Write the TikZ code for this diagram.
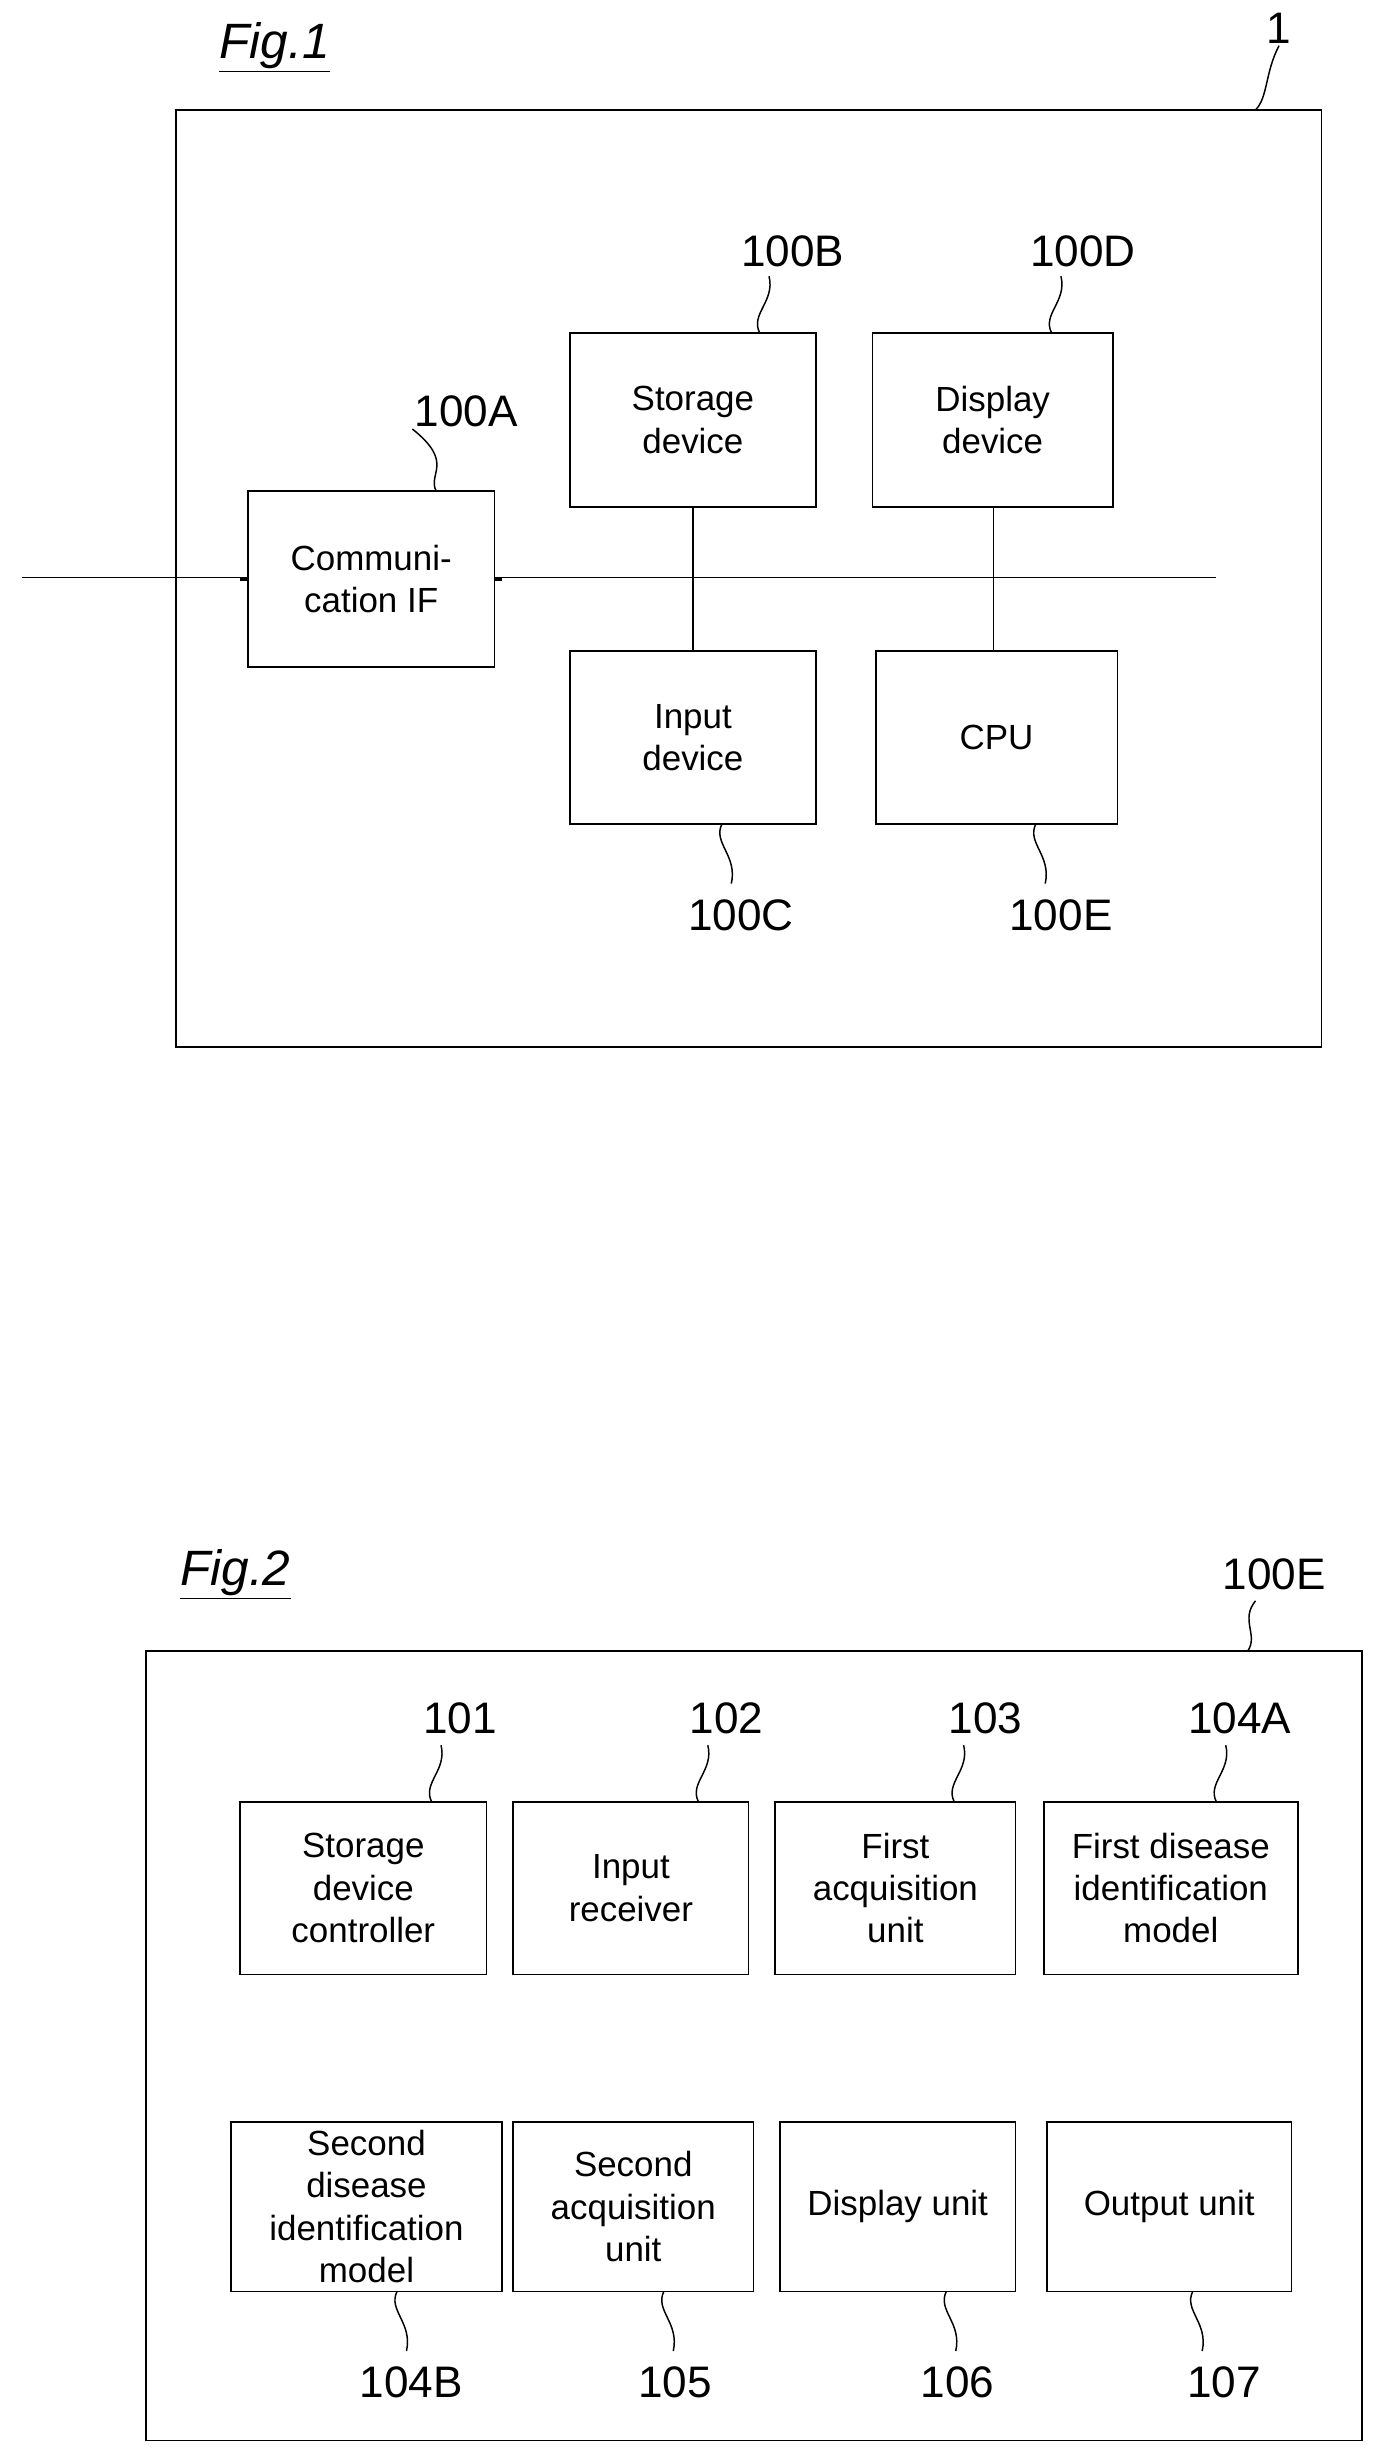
\documentclass[tikz,border=0pt]{standalone}
\usepackage{fontspec}
\setmainfont{Liberation Sans}
\begin{document}
\begin{tikzpicture}[x=0.3mm,y=-0.3mm,
 box/.style={draw,line width=0.9pt,align=center,inner sep=0pt,font=\fontsize{19}{23}\selectfont},
 lab/.style={font=\fontsize{24}{28}\selectfont,inner sep=1pt},
 figl/.style={font=\fontsize{27}{30}\selectfont\itshape,inner sep=1pt},
 ln/.style={line width=0.9pt},
 sq/.style={line width=0.8pt}]
\useasboundingbox (0,0) rectangle (880,1563);
% ---- Fig 1
\node[figl] (f1) at (175,30) {\underline{Fig.1}};
\draw[ln] (112,70) rectangle (842,667);
\node[lab] (l1) at (815,18) {1};
\draw[sq] (800,70) .. controls (808,62) and (806,46) .. (l1.south);
\coordinate (busL) at (14,368);
\coordinate (busR) at (775,368);
\draw[ln] (busL) -- (busR);
\node[box,fill=white,minimum width=157\pgflinewidth] (A) at (236.5,369) {};
\path[box,draw,fill=white] (158,313) rectangle (315,425);
\node[box,draw=none] (A) at (236.5,369) {Communi-\\cation IF};
\node[box,minimum width=157*0.3mm,minimum height=111*0.3mm] (B) at (441.5,267.5) {Storage\\device};
\node[box,minimum width=153*0.3mm,minimum height=111*0.3mm] (D) at (632.5,267.5) {Display\\device};
\node[box,minimum width=157*0.3mm,minimum height=110*0.3mm] (C) at (441.5,470) {Input\\device};
\node[box,minimum width=154*0.3mm,minimum height=110*0.3mm] (E) at (635,470) {CPU};
\draw[ln] (B.south) -- (C.north);
\draw[ln] (633,323) -- (633,415);
\node[lab] (lA) at (297,262) {100A};
\node[lab] (lB) at (505,160) {100B};
\node[lab] (lD) at (690,160) {100D};
\node[lab] (lC) at (472,583) {100C};
\node[lab] (lE) at (676,583) {100E};
\draw[sq] (278,313) .. controls (272,302) and (290,295) .. (lA.south west) ++(0,0);
\draw[sq] (484,212) .. controls (478,200) and (494,192) .. (490,176);
\draw[sq] (670,212) .. controls (664,200) and (680,192) .. (676,176);
\draw[sq] (460,525) .. controls (454,537) and (470,545) .. (466,563);
\draw[sq] (660,525) .. controls (654,537) and (670,545) .. (666,563);
% ---- Fig 2
\node[figl] (f2) at (150,1003) {\underline{Fig.2}};
\draw[ln] (93,1052) rectangle (868,1555);
\node[lab] (l2) at (812,1003) {100E};
\draw[sq] (795,1052) .. controls (802,1042) and (790,1032) .. (800,1020);
\foreach \n/\xa/\xb/\t in {b101/153/310/{Storage\\device\\controller},b102/327/477/{Input\\receiver},b103/494/647/{First\\acquisition\\unit},b104a/665/827/{First disease\\identification\\model}}{
  \node[box,minimum width={(\xb-\xa)*0.3mm},minimum height=110*0.3mm] (\n) at ({(\xa+\xb)/2},1203) {\t};}
\foreach \n/\xa/\xb/\t in {b104b/147/320/{Second\\disease\\identification\\model},b105/327/480/{Second\\acquisition\\unit},b106/497/647/{Display unit},b107/667/823/{Output unit}}{
  \node[box,minimum width={(\xb-\xa)*0.3mm},minimum height=108*0.3mm] (\n) at ({(\xa+\xb)/2},1406) {\t};}
\foreach \n/\x/\s/\t in {m101/293/275/101,m102/463/445/102,m103/628/608/103,m104a/790/775/104A}{
  \node[lab] (\n) at (\x,1095) {\t};
  \draw[sq] (\s,1148) .. controls ({\s-6},1136) and ({\s+10},1128) .. ({\s+6},1112);}
\foreach \n/\x/\s/\t in {m104b/262/253/104B,m105/430/423/105,m106/610/603/106,m107/780/760/107}{
  \node[lab] (\n) at (\x,1518) {\t};
  \draw[sq] (\s,1460) .. controls ({\s-6},1472) and ({\s+10},1480) .. ({\s+6},1498);}
\end{tikzpicture}
\end{document}
